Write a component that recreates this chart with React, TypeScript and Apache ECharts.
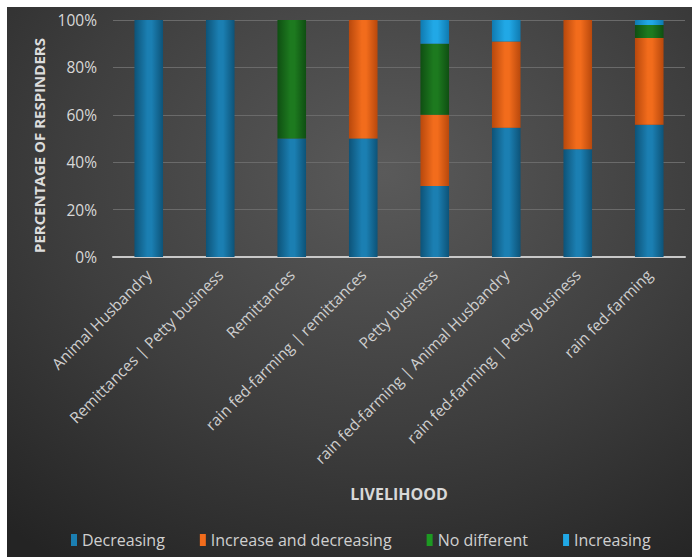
import React, { useEffect, useRef } from "react";
import * as echarts from "echarts";

const categories = [
  "Animal Husbandry",
  "Remittances | Petty business",
  "Remittances",
  "rain fed-farming | remittances",
  "Petty business",
  "rain fed-farming | Animal Husbandry",
  "rain fed-farming | Petty Business",
  "rain fed-farming",
];

const decreasing = [100, 100, 50, 50, 30, 54.5, 45.5, 55.8];
const increaseAndDecreasing = [0, 0, 0, 50, 30, 36.4, 54.5, 36.6];
const noDifferent = [0, 0, 50, 0, 30, 0, 0, 5.5];
const increasing = [0, 0, 0, 0, 10, 9.1, 0, 2.1];

const yTicks = [0, 20, 40, 60, 80, 100];

function grad(dark: string, mid: string) {
  return new echarts.graphic.LinearGradient(0, 0, 1, 0, [
    { offset: 0, color: dark },
    { offset: 0.45, color: mid },
    { offset: 0.6, color: mid },
    { offset: 1, color: dark },
  ]);
}

export default function App() {
  const ref = useRef<HTMLDivElement>(null);
  useEffect(() => {
    if (!ref.current) return;
    const chart = echarts.init(ref.current, null, { renderer: "svg" });
    const font = "'Open Sans', 'DejaVu Sans', sans-serif";
    const mk = (name: string, data: number[], dark: string, mid: string) => ({
      name,
      type: "bar",
      stack: "total",
      barWidth: "40%",
      data,
      itemStyle: { color: grad(dark, mid) },
      emphasis: { disabled: true },
    });
    const series = [
      mk("Decreasing", decreasing, "#0d5378", "#1b7fb2"),
      mk("Increase and decreasing", increaseAndDecreasing, "#b8480c", "#f26c1c"),
      mk("No different", noDifferent, "#0f4f12", "#1d7a1f"),
      mk("Increasing", increasing, "#0f7ab0", "#21a8e6"),
    ];
    chart.setOption({
      animation: false,
      backgroundColor: new echarts.graphic.RadialGradient(0.55, 0.3, 0.85, [
        { offset: 0, color: "#5a5a5a" },
        { offset: 0.55, color: "#3e3e3e" },
        { offset: 1, color: "#242424" },
      ]),
      textStyle: { fontFamily: font },
      grid: { left: 106, right: 7, top: 13, bottom: 300, containLabel: false },
      legend: {
        bottom: 4,
        left: 59,
        itemWidth: 6,
        itemHeight: 12,
        itemGap: 35,
        icon: "rect",
        textStyle: { color: "#d0d0d0", fontSize: 16, fontFamily: font },
        data: [
          { name: "Decreasing", itemStyle: { color: "#1b7fb2" } },
          { name: "Increase and decreasing", itemStyle: { color: "#f26c1c" } },
          { name: "No different", itemStyle: { color: "#1d9a22" } },
          { name: "Increasing", itemStyle: { color: "#21a8e6" } },
        ],
      },
      xAxis: {
        type: "category",
        data: categories,
        name: "LIVELIHOOD",
        nameLocation: "middle",
        nameGap: 229,
        nameTextStyle: { color: "#d8d8d8", fontSize: 16, fontWeight: "bold", fontFamily: font },
        axisLine: { lineStyle: { color: "#c8c8c8", width: 2 } },
        axisTick: { show: false },
        axisLabel: {
          rotate: 45,
          color: "#cfcfcf",
          fontSize: 15.5,
          margin: 15,
          interval: 0,
          fontFamily: font,
        },
      },
      yAxis: {
        type: "value",
        min: 0,
        max: 100,
        interval: 20,
        name: "PERCENTAGE OF RESPINDERS",
        nameLocation: "middle",
        nameGap: 62,
        nameTextStyle: {
          color: "#dcdcdc",
          fontSize: 15,
          fontWeight: "bold",
          fontFamily: font,
          padding: [0, 14, 0, 0],
        },
        axisLine: { show: false },
        axisTick: { show: false },
        splitLine: { lineStyle: { color: "#6a6a6a", width: 1 } },
        axisLabel: {
          color: "#d8d8d8",
          fontSize: 15.5,
          margin: 16,
          fontFamily: font,
          formatter: (v: number) => (yTicks.includes(v) ? v + "%" : ""),
        },
      },
      series,
    });
    return () => chart.dispose();
  }, []);
  return (
    <div style={{ position: "absolute", left: 0, top: 0, width: 692, height: 557, background: "#fff" }}>
      <div ref={ref} style={{ position: "absolute", left: 7, top: 7, width: 685, height: 550 }} />
    </div>
  );
}
